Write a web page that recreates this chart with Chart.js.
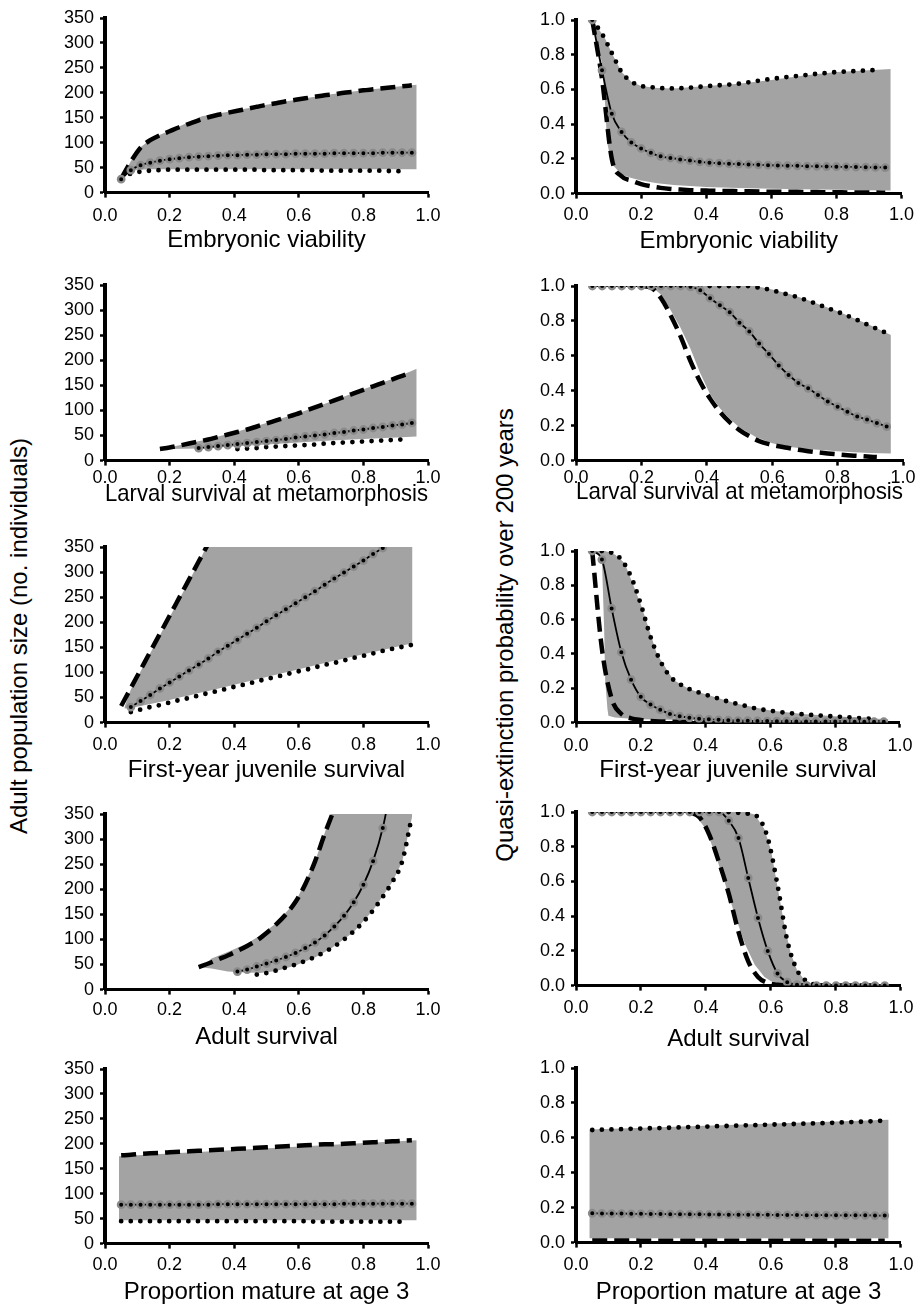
<!DOCTYPE html>
<html>
<head>
<meta charset="utf-8">
<script src="https://cdn.jsdelivr.net/npm/chart.js@4.4.1/dist/chart.umd.min.js"></script>
<style>
  html, body { margin: 0; background: #fff; }
  body { position: relative; width: 920px; height: 1304px; overflow: hidden; font-family: "Liberation Sans", Arial, sans-serif; }
  canvas { position: absolute; }
  .ytitle { position: absolute; white-space: nowrap; font-size: 24px; color: #000; transform: translate(-50%, -50%) rotate(-90deg); }
</style>
</head>
<body>
<div class="ytitle" style="left:19px; top:636px">Adult population size (no. individuals)</div>
<div class="ytitle" style="left:505px; top:635px">Quasi-extinction probability over 200 years</div>
<script>
// parameter values sampled along each x axis
const xs = [0.05, 0.08, 0.11, 0.14, 0.17, 0.20, 0.23, 0.26, 0.29, 0.32, 0.35, 0.38, 0.41, 0.44, 0.47, 0.50,
  0.53, 0.56, 0.59, 0.62, 0.65, 0.68, 0.71, 0.74, 0.77, 0.80, 0.83, 0.86, 0.89, 0.92, 0.95];
const popTicks = [0, 50, 100, 150, 200, 250, 300, 350];
const probTicks = [0, 0.2, 0.4, 0.6, 0.8, 1.0];
const xTicks = [0, 0.2, 0.4, 0.6, 0.8, 1.0];

// embryonic viability - population size
const embPopDash = [28, 62, 90, 105, 115, 123, 131, 138, 145, 151, 156, 160, 164, 168, 172, 176, 179, 183, 186, 189, 192, 195, 197, 200, 202, 205, 207, 209, 211, 213, 215];
const embPopMid = [27, 45, 55, 60, 64, 67, 69, 71, 72, 73, 74, 75, 75, 76, 76, 77, 77, 77, 78, 78, 78, 78, 79, 79, 79, 79, 79, 80, 80, 80, 80];
const embPopDot = [30, 38, 42, 44, 45, 46, 46, 46, 46, 46, 46, 46, 46, 46, 46, 45, 45, 45, 45, 45, 45, 44, 44, 44, 44, 44, 44, 44, 43, 43, null];
const embPopBandX = [0.065, 0.08, 0.11, 0.14, 0.17, 0.20, 0.30, 0.40, 0.50, 0.60, 0.70, 0.80, 0.90, 0.965];
const embPopBandHi = [45, 63, 91, 106, 116, 124, 153, 164, 176, 187, 197, 205, 212, 216];
const embPopBandLo = [42, 44, 46, 47, 47, 47, 47, 47, 47, 47, 47, 47, 47, 47];

// larval survival - population size
const larPopDash = [null, null, null, null, 23, 26, 30, 34, 38, 42, 47, 52, 57, 62, 68, 74, 80, 86, 92, 99, 106, 113, 120, 127, 134, 141, 148, 155, 162, 169, 176];
const larPopMid = [null, null, null, null, null, null, null, null, 25, 27, 29, 31, 33, 35, 37, 39, 41, 43, 46, 48, 50, 52, 55, 57, 60, 62, 65, 67, 70, 72, 75];
const larPopDot = [null, null, null, null, null, null, null, null, null, null, null, null, 23, 24, 25, 27, 28, 29, 30, 31, 32, 34, 35, 36, 37, 38, 39, 40, 41, 42, null];
const larPopBandX = [0.19, 0.30, 0.40, 0.50, 0.60, 0.70, 0.80, 0.90, 0.965];
const larPopBandHi = [25, 40, 56, 75, 95, 118, 142, 165, 183];
const larPopBandLo = [23, 24, 28, 32, 36, 40, 43, 46, 48];

// first-year juvenile survival - population size
const juvPopDash = [33, 69, 105, 141, 177, 213, 249, 285, 321, 357, null, null, null, null, null, null, null, null, null, null, null, null, null, null, null, null, null, null, null, null, null];
const juvPopMid = [null, 31, 43, 55, 68, 80, 92, 104, 116, 128, 141, 153, 165, 177, 189, 202, 214, 226, 238, 250, 262, 275, 287, 299, 311, 323, 336, 348, null, null, null];
const juvPopDot = [null, 21, 26, 31, 35, 40, 45, 49, 54, 59, 63, 68, 73, 77, 82, 87, 91, 96, 101, 105, 110, 115, 119, 124, 129, 133, 138, 143, 147, 151, 155];
const juvPopBandX = [0.06, 0.08, 0.11, 0.14, 0.17, 0.20, 0.23, 0.26, 0.29, 0.313, 0.50, 0.70, 0.952];
const juvPopBandHi = [30, 66, 102, 138, 174, 210, 246, 282, 318, 350, 350, 350, 350];
const juvPopBandLo = [28, 29, 33, 37, 41, 45, 50, 54, 59, 62, 91, 122, 158];

// adult survival - population size
const adPopDash = [null, null, null, null, null, null, null, null, 45, 52, 60, 68, 77, 87, 98, 113, 130, 150, 175, 210, 255, 310, 360, null, null, null, null, null, null, null, null];
const adPopMid = [null, null, null, null, null, null, null, null, null, null, null, null, 36, 40, 46, 52, 58, 65, 73, 83, 94, 108, 126, 147, 174, 209, 256, 322, 420, null, null];
const adPopDot = [null, null, null, null, null, null, null, null, null, null, null, null, null, null, 30, 33, 38, 44, 50, 57, 65, 75, 86, 100, 116, 135, 158, 185, 215, 255, 345];
const adPopBandX = [0.30, 0.33, 0.38, 0.44, 0.48, 0.53, 0.59, 0.65, 0.70, 0.77, 0.83, 0.89, 0.92, 0.951];
const adPopBandHi = [46, 62, 75, 92, 108, 132, 175, 255, 350, 350, 350, 350, 350, 350];
const adPopBandLo = [44, 42, 36, 34, 33, 37, 48, 64, 82, 115, 158, 215, 255, 345];

// proportion mature at age 3 - population size
const matPopDash = [177, 178, 180, 181, 182, 183, 184, 185, 186, 187, 188, 189, 190, 191, 192, 193, 194, 195, 196, 197, 198, 199, 199, 200, 201, 202, 203, 204, 205, 206, 207];
const matPopMid = [78, 78, 78, 78, 78, 78, 78, 78, 78, 78, 79, 79, 79, 79, 79, 79, 79, 79, 79, 79, 79, 79, 79, 80, 80, 80, 80, 80, 80, 80, 80];
const matPopDot = [45, 45, 45, 45, 45, 45, 45, 45, 45, 45, 45, 45, 45, 45, 45, 45, 45, 45, 45, 45, 44, 44, 44, 44, 44, 44, 44, 44, 44, 44, null];
const matPopBandX = [0.043, 0.965];
const matPopBandHi = [175, 207];
const matPopBandLo = [47, 47];

// embryonic viability - extinction probability
const embExtDash = [1.0, 0.66, 0.20, 0.10, 0.075, 0.055, 0.042, 0.033, 0.027, 0.023, 0.02, 0.018, 0.017, 0.016, 0.015, 0.014, 0.013, 0.012, 0.011, 0.011, 0.01, 0.01, 0.009, 0.009, 0.008, 0.008, 0.007, 0.007, 0.006, 0.006, 0.005];
const embExtMid = [1.0, 0.71, 0.46, 0.355, 0.295, 0.26, 0.235, 0.215, 0.205, 0.197, 0.19, 0.183, 0.178, 0.175, 0.172, 0.17, 0.168, 0.166, 0.164, 0.162, 0.161, 0.16, 0.158, 0.157, 0.156, 0.155, 0.154, 0.153, 0.152, 0.151, 0.15];
const embExtDot = [1.0, 0.92, 0.81, 0.70, 0.645, 0.62, 0.613, 0.608, 0.606, 0.607, 0.61, 0.615, 0.62, 0.624, 0.628, 0.633, 0.641, 0.65, 0.658, 0.665, 0.672, 0.678, 0.684, 0.69, 0.695, 0.70, 0.703, 0.706, 0.709, 0.712, null];
const embExtBandX = [0.05, 0.08, 0.09, 0.095, 0.11, 0.14, 0.17, 0.20, 0.25, 0.30, 0.40, 0.50, 0.60, 0.70, 0.80, 0.90, 0.967];
const embExtBandHi = [1.0, 0.92, 0.89, 0.87, 0.81, 0.70, 0.645, 0.62, 0.608, 0.606, 0.62, 0.633, 0.655, 0.68, 0.70, 0.71, 0.718];
const embExtBandLo = [1.0, 0.75, 0.5, 0.3, 0.17, 0.11, 0.09, 0.075, 0.06, 0.05, 0.038, 0.032, 0.028, 0.025, 0.022, 0.02, 0.018];

// larval survival - extinction probability
const larExtDash = [null, null, null, null, null, 1.0, 0.99, 0.93, 0.83, 0.71, 0.57, 0.45, 0.355, 0.28, 0.22, 0.175, 0.14, 0.112, 0.094, 0.082, 0.072, 0.062, 0.054, 0.047, 0.041, 0.036, 0.031, 0.027, 0.023, 0.02, null];
const larExtMid = [1, 1, 1, 1, 1, 1, 1, 1, 1, 1, 0.995, 0.975, 0.93, 0.89, 0.85, 0.79, 0.74, 0.67, 0.61, 0.545, 0.49, 0.445, 0.414, 0.376, 0.338, 0.309, 0.28, 0.252, 0.235, 0.215, 0.195];
const larExtDot = [null, null, null, null, null, null, null, null, null, null, 1, 1, 1, 1, 1, 1, 1, 0.99, 0.98, 0.965, 0.95, 0.935, 0.915, 0.895, 0.873, 0.852, 0.83, 0.805, 0.78, 0.755, 0.73];
const larExtBandX = [0.23, 0.26, 0.29, 0.32, 0.35, 0.38, 0.41, 0.44, 0.47, 0.50, 0.55, 0.60, 0.65, 0.70, 0.75, 0.80, 0.85, 0.90, 0.963];
const larExtBandHi = [1, 1, 1, 1, 1, 1, 1, 1, 1, 1, 1, 0.98, 0.955, 0.925, 0.89, 0.855, 0.815, 0.775, 0.72];
const larExtBandLo = [1, 0.95, 0.86, 0.76, 0.64, 0.50, 0.38, 0.30, 0.24, 0.19, 0.135, 0.10, 0.08, 0.068, 0.06, 0.053, 0.048, 0.044, 0.04];

// first-year juvenile survival - extinction probability
const juvExtDash = [1.0, 0.43, 0.14, 0.05, 0.025, 0.015, 0.01, 0.007, 0.005, 0.004, 0.003, 0.003, 0.002, 0.002, 0.002, 0.002, 0.001, 0.001, 0.001, 0.001, 0.001, 0.001, 0.001, 0.001, 0.001, 0.001, 0.001, 0.001, 0.001, 0.001, 0.001];
const juvExtMid = [1.0, 0.95, 0.665, 0.41, 0.25, 0.15, 0.105, 0.075, 0.05, 0.037, 0.028, 0.023, 0.019, 0.016, 0.014, 0.012, 0.011, 0.01, 0.009, 0.008, 0.008, 0.007, 0.007, 0.006, 0.006, 0.006, 0.005, 0.005, 0.005, 0.005, 0.005];
const juvExtDot = [1.0, 1.0, 0.99, 0.95, 0.85, 0.69, 0.50, 0.36, 0.27, 0.225, 0.195, 0.175, 0.157, 0.14, 0.122, 0.108, 0.094, 0.08, 0.072, 0.064, 0.057, 0.052, 0.047, 0.043, 0.039, 0.035, 0.032, 0.028, 0.025, 0.021, null];
const juvExtBandX = [0.05, 0.08, 0.082, 0.087, 0.09, 0.097, 0.10, 0.12, 0.15, 0.2, 0.25, 0.3, 0.35, 0.4, 0.5, 0.6, 0.7, 0.8, 0.9, 0.964];
const juvExtBandHi = [1, 1, 1, 1, 1, 0.995, 0.995, 0.98, 0.93, 0.69, 0.40, 0.25, 0.195, 0.165, 0.108, 0.07, 0.05, 0.037, 0.026, 0.02];
const juvExtBandLo = [1, 0.97, 0.83, 0.54, 0.25, 0.08, 0.04, 0.03, 0.025, 0.02, 0.018, 0.016, 0.015, 0.014, 0.013, 0.012, 0.012, 0.011, 0.01, 0.01];

// adult survival - extinction probability
const adExtDash = [null, null, null, null, null, null, null, null, null, null, 1.0, 0.97, 0.87, 0.71, 0.53, 0.31, 0.14, 0.05, 0.015, 0.005, 0, 0, 0, 0, 0, 0, 0, 0, 0, 0, 0];
const adExtMid = [1, 1, 1, 1, 1, 1, 1, 1, 1, 1, 1, 1, 1, 1, 0.95, 0.85, 0.62, 0.39, 0.20, 0.07, 0.02, 0.005, 0, 0, 0, 0, 0, 0, 0, 0, 0];
const adExtDot = [null, null, null, null, null, null, null, null, null, null, null, null, null, 1.0, 1.0, 0.995, 0.99, 0.97, 0.85, 0.58, 0.26, 0.09, 0.025, 0.005, 0, null, null, null, null, null, null];
const adExtBandX = [0.36, 0.40, 0.43, 0.46, 0.49, 0.52, 0.55, 0.58, 0.60, 0.62, 0.64, 0.66, 0.68, 0.70, 0.72, 0.74];
const adExtBandHi = [1, 1, 1, 1, 1, 1, 0.985, 0.90, 0.78, 0.57, 0.36, 0.19, 0.09, 0.04, 0.015, 0.005];
const adExtBandLo = [1, 0.9, 0.75, 0.58, 0.40, 0.24, 0.12, 0.05, 0.025, 0.015, 0.01, 0.007, 0.005, 0.003, 0.002, 0];

// proportion mature at age 3 - extinction probability
const matExtDash = [0.012, 0.012, 0.012, 0.012, 0.012, 0.011, 0.011, 0.011, 0.011, 0.011, 0.011, 0.011, 0.011, 0.011, 0.011, 0.011, 0.011, 0.011, 0.01, 0.01, 0.01, 0.01, 0.01, 0.01, 0.01, 0.01, 0.01, 0.01, 0.01, 0.01, 0.01];
const matExtMid = [0.168, 0.167, 0.166, 0.166, 0.165, 0.165, 0.164, 0.164, 0.163, 0.163, 0.162, 0.162, 0.161, 0.161, 0.160, 0.160, 0.160, 0.159, 0.159, 0.158, 0.158, 0.158, 0.157, 0.157, 0.157, 0.156, 0.156, 0.156, 0.156, 0.155, 0.155];
const matExtDot = [0.645, 0.647, 0.648, 0.650, 0.652, 0.653, 0.655, 0.656, 0.658, 0.660, 0.662, 0.663, 0.665, 0.667, 0.668, 0.670, 0.672, 0.673, 0.675, 0.677, 0.678, 0.680, 0.682, 0.683, 0.685, 0.687, 0.689, 0.691, 0.693, 0.696, 0.699];
const matExtBandX = [0.041, 0.962];
const matExtBandHi = [0.648, 0.703];
const matExtBandLo = [0.025, 0.025];

// page layout: column x positions and row y positions of each plot area
const cols = [{ cx: 0, left: 105, right: 428 }, { cx: 460, left: 576, right: 903 }];
const panels = [
  { col: 0, top: 18, bottom: 193, gap: 48, pad: 8, title: 'Embryonic viability', pop: true, dash: embPopDash, mid: embPopMid, dot: embPopDot, bx: embPopBandX, hi: embPopBandHi, lo: embPopBandLo },
  { col: 0, top: 285, bottom: 461, gap: 34, pad: 2, title: 'Larval survival at metamorphosis', pop: true, dash: larPopDash, mid: larPopMid, dot: larPopDot, bx: larPopBandX, hi: larPopBandHi, lo: larPopBandLo },
  { col: 0, top: 547, bottom: 723, gap: 48, pad: 7, title: 'First-year juvenile survival', pop: true, dash: juvPopDash, mid: juvPopMid, dot: juvPopDot, bx: juvPopBandX, hi: juvPopBandHi, lo: juvPopBandLo },
  { col: 0, top: 814, bottom: 990, gap: 48, pad: 5, title: 'Adult survival', pop: true, dash: adPopDash, mid: adPopMid, dot: adPopDot, bx: adPopBandX, hi: adPopBandHi, lo: adPopBandLo },
  { col: 0, top: 1069, bottom: 1244, gap: 49, pad: 5.5, title: 'Proportion mature at age 3', pop: true, dash: matPopDash, mid: matPopMid, dot: matPopDot, bx: matPopBandX, hi: matPopBandHi, lo: matPopBandLo },
  { col: 1, top: 20, bottom: 194, gap: 48, pad: 6, title: 'Embryonic viability', pop: false, dash: embExtDash, mid: embExtMid, dot: embExtDot, bx: embExtBandX, hi: embExtBandHi, lo: embExtBandLo },
  { col: 1, top: 286, bottom: 461, gap: 32, pad: 2, title: 'Larval survival at metamorphosis', pop: false, dash: larExtDash, mid: larExtMid, dot: larExtDot, bx: larExtBandX, hi: larExtBandHi, lo: larExtBandLo },
  { col: 1, top: 551, bottom: 723, gap: 48, pad: 7.5, title: 'First-year juvenile survival', pop: false, dash: juvExtDash, mid: juvExtMid, dot: juvExtDot, bx: juvExtBandX, hi: juvExtBandHi, lo: juvExtBandLo },
  { col: 1, top: 812, bottom: 986, gap: 54, pad: 6.5, title: 'Adult survival', pop: false, dash: adExtDash, mid: adExtMid, dot: adExtDot, bx: adExtBandX, hi: adExtBandHi, lo: adExtBandLo },
  { col: 1, top: 1068, bottom: 1243, gap: 50, pad: 6.5, title: 'Proportion mature at age 3', pop: false, dash: matExtDash, mid: matExtMid, dot: matExtDot, bx: matExtBandX, hi: matExtBandHi, lo: matExtBandLo },
];

Chart.defaults.font.family = '"Liberation Sans", Arial, Helvetica, sans-serif';
Chart.defaults.color = '#000';

function pts(xv, yv) {
  return xv.map((x, i) => ({ x, y: yv[i] })).filter((p) => p.y !== null);
}

function build(p) {
  const col = cols[p.col];
  const padTop = 22;
  const titleSize = 24;
  const axisH = p.gap + titleSize * 1.2 / 2;
  const c = document.createElement('canvas');
  c.width = 460;
  c.height = Math.round(p.bottom - p.top + padTop + axisH);
  c.style.left = col.cx + 'px';
  c.style.top = (p.top - padTop) + 'px';
  document.body.appendChild(c);
  const ticksY = p.pop ? popTicks : probTicks;
  const tickGrid = { drawOnChartArea: false, drawTicks: true, tickLength: 5, tickWidth: 2.5, tickColor: '#000', color: '#000' };

  new Chart(c, {
    type: 'line',
    data: {
      datasets: [
        { data: pts(xs, p.mid), order: 0, borderColor: '#000', borderWidth: 1.8, cubicInterpolationMode: 'monotone',
          pointRadius: 3.2, pointBorderWidth: 2.4, pointBackgroundColor: '#000', pointBorderColor: '#8a8a8a' },
        { data: pts(xs, p.dot), order: 1, borderColor: '#000', borderWidth: 4.8, borderDash: [0, 9.6], borderCapStyle: 'round',
          cubicInterpolationMode: 'monotone', pointRadius: 0 },
        { data: pts(xs, p.dash), order: 2, borderColor: '#000', borderWidth: 4.5, borderDash: [15, 7], borderCapStyle: 'butt',
          cubicInterpolationMode: 'monotone', pointRadius: 0 },
        { data: pts(p.bx, p.hi), order: 3, borderWidth: 0, borderColor: 'rgba(0,0,0,0)', pointRadius: 0, tension: 0,
          fill: '+1', backgroundColor: '#a3a3a3' },
        { data: pts(p.bx, p.lo), order: 4, borderWidth: 0, borderColor: 'rgba(0,0,0,0)', pointRadius: 0, tension: 0, fill: false },
      ],
    },
    options: {
      responsive: false,
      animation: false,
      events: [],
      layout: { padding: { left: 0, top: padTop, right: 460 - (col.right - col.cx), bottom: 0 } },
      plugins: { legend: { display: false }, tooltip: { enabled: false } },
      scales: {
        x: {
          type: 'linear', min: 0, max: 1,
          afterFit: (s) => { s.height = axisH; },
          afterBuildTicks: (s) => { s.ticks = xTicks.map((v) => ({ value: v })); },
          ticks: { padding: p.pad, font: { size: 18 }, maxRotation: 0, autoSkip: false, callback: (v) => v.toFixed(1) },
          grid: tickGrid,
          border: { color: '#000', width: 3 },
          title: { display: true, text: p.title, font: { size: titleSize }, padding: 0 },
        },
        y: {
          min: 0, max: ticksY[ticksY.length - 1],
          afterFit: (s) => { s.width = col.left - col.cx; },
          afterBuildTicks: (s) => { s.ticks = ticksY.map((v) => ({ value: v })); },
          ticks: { padding: 6, font: { size: 18 }, callback: (v) => (p.pop ? String(v) : v.toFixed(1)) },
          grid: tickGrid,
          border: { color: '#000', width: 4 },
        },
      },
    },
  });
}

panels.forEach(build);
</script>
</body>
</html>
